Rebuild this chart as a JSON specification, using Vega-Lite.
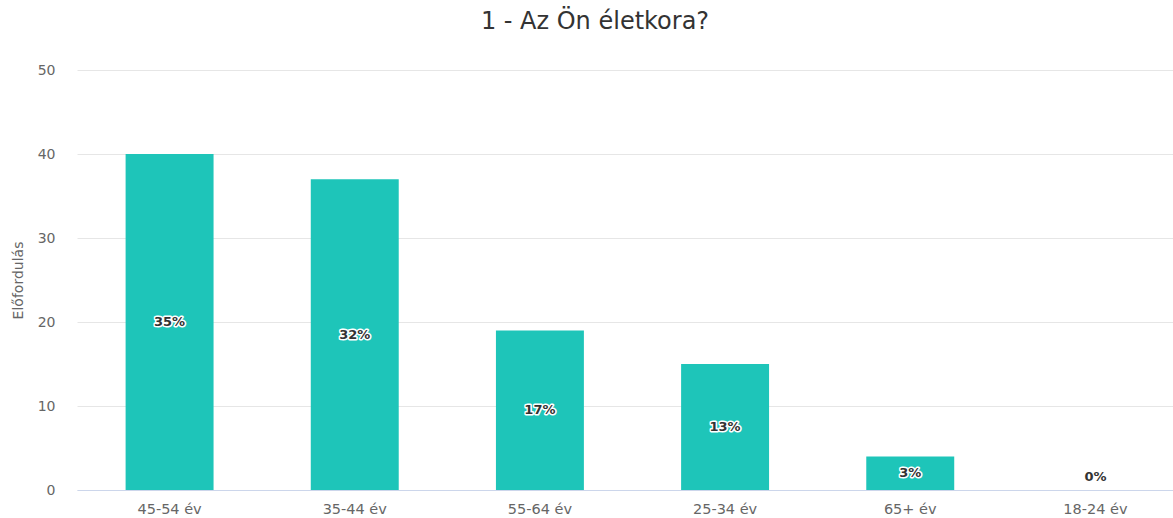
{
  "$schema": "https://vega.github.io/schema/vega-lite/v6.json",
  "width": 1096,
  "height": 420,
  "autosize": {"type": "none"},
  "padding": {"left": 77, "top": 70, "right": 0, "bottom": 28},
  "background": "#ffffff",
  "config": {
    "font": "DejaVu Sans",
    "view": {"stroke": null}
  },
  "title": {
    "text": "1 - Az Ön életkora?",
    "fontSize": 24,
    "fontWeight": "normal",
    "color": "#333333",
    "anchor": "middle",
    "dx": -30,
    "offset": 29,
    "font": "DejaVu Sans"
  },
  "data": {
    "values": [
      {"kategoria": "45-54 év", "darab": 40, "szazalek": "35%"},
      {"kategoria": "35-44 év", "darab": 37, "szazalek": "32%"},
      {"kategoria": "55-64 év", "darab": 19, "szazalek": "17%"},
      {"kategoria": "25-34 év", "darab": 15, "szazalek": "13%"},
      {"kategoria": "65+ év", "darab": 4, "szazalek": "3%"},
      {"kategoria": "18-24 év", "darab": 0, "szazalek": "0%"}
    ]
  },
  "transform": [
    {"calculate": "max(datum.darab / 2, 1.5)", "as": "cimkePoz"}
  ],
  "encoding": {
    "x": {
      "field": "kategoria",
      "type": "nominal",
      "sort": null,
      "scale": {"range": [0, 1111], "paddingInner": 0.525, "paddingOuter": 0.2625},
      "axis": {
        "title": null,
        "labelAngle": 0,
        "labelFontSize": 14.5,
        "labelColor": "#666666",
        "labelPadding": 12,
        "ticks": false,
        "domainColor": "#ccd6eb",
        "domainWidth": 1,
        "grid": false
      }
    }
  },
  "layer": [
    {
      "mark": {"type": "bar", "color": "#1ec5b9"},
      "encoding": {
        "y": {
          "field": "darab",
          "type": "quantitative",
          "scale": {"domain": [0, 50]},
          "axis": {
            "title": "Előfordulás",
            "titleFontSize": 14,
            "titleFontWeight": "normal",
            "titleColor": "#666666",
            "titlePadding": 12,
            "values": [0, 10, 20, 30, 40, 50],
            "labelFontSize": 14,
            "labelColor": "#666666",
            "labelPadding": 22,
            "ticks": false,
            "domain": false,
            "gridColor": "#e6e6e6",
            "gridWidth": 1
          }
        }
      }
    },
    {
      "mark": {"type": "text", "fontSize": 13, "fontWeight": "bold", "stroke": "#ffffff", "strokeWidth": 3, "strokeJoin": "round", "fill": "#ffffff", "baseline": "middle"},
      "encoding": {
        "y": {"field": "cimkePoz", "type": "quantitative"},
        "text": {"field": "szazalek"}
      }
    },
    {
      "mark": {"type": "text", "fontSize": 13, "fontWeight": "bold", "fill": "#333333", "baseline": "middle"},
      "encoding": {
        "y": {"field": "cimkePoz", "type": "quantitative"},
        "text": {"field": "szazalek"}
      }
    }
  ]
}
